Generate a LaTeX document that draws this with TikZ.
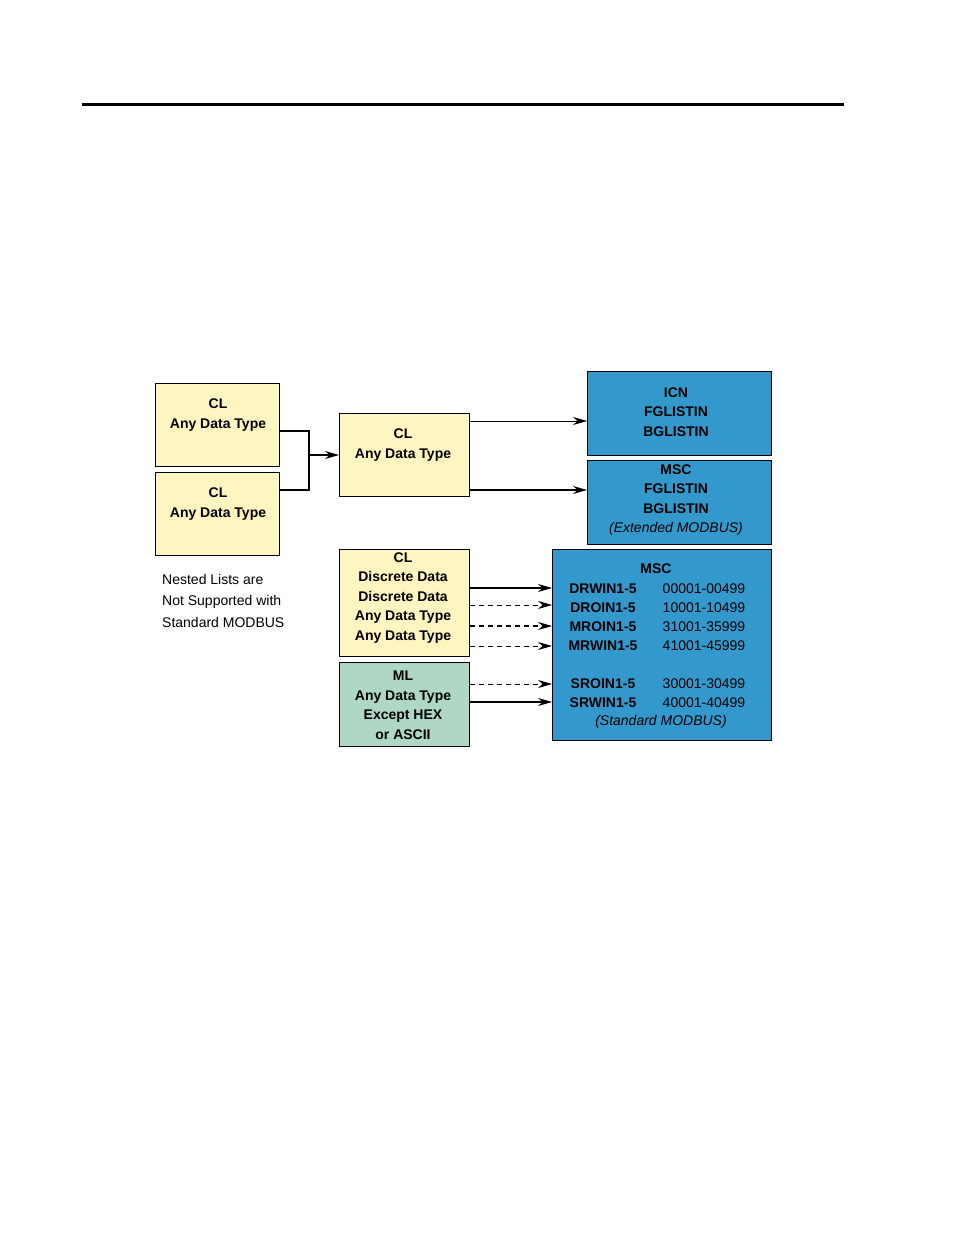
\documentclass[tikz,border=0pt]{standalone}
\usepackage{fontspec}
\setmainfont{Liberation Sans}
\usetikzlibrary{arrows.meta}
\definecolor{yel}{HTML}{FFF5C0}
\definecolor{grn}{HTML}{AED8C4}
\definecolor{blu}{HTML}{3399CC}
\tikzset{
 box/.style={draw=black,line width=1.2pt,inner sep=0pt,anchor=north west},
 txt/.style={font=\fontsize{14}{19.5}\selectfont\bfseries,align=center,inner sep=0pt},
 conn/.style={line width=1.2pt,-{Stealth[length=14pt,width=8pt]}},
 dconn/.style={line width=0.8pt,dash pattern=on 5pt off 4pt,-{Stealth[length=14pt,width=8pt]}},
}
\begin{document}
\begin{tikzpicture}[x=1pt,y=-1pt]
\useasboundingbox (0,0) rectangle (954,1235);
\draw[line width=3pt] (82,104) -- (844,104);
% boxes
\node[box,fill=yel,minimum width=124pt,minimum height=83pt] (cla) at (155,383) {};
\node[box,fill=yel,minimum width=124pt,minimum height=83pt] (clb) at (155,472) {};
\node[box,fill=yel,minimum width=130pt,minimum height=83pt] (clm) at (339,413) {};
\node[box,fill=blu,minimum width=184pt,minimum height=84pt] (icn) at (587,371) {};
\node[box,fill=blu,minimum width=184pt,minimum height=84pt] (msce) at (587,460) {};
\node[box,fill=yel,minimum width=130pt,minimum height=107pt] (clc) at (339,549) {};
\node[box,fill=grn,minimum width=130pt,minimum height=84pt] (ml) at (339,662) {};
\node[box,fill=blu,minimum width=219pt,minimum height=191pt] (mscb) at (552,549) {};
% texts
\node[txt] (t1) at (218,415) {CL\\Any Data Type};
\node[txt] (t2) at (218,504) {CL\\Any Data Type};
\node[txt] (t3) at (403,445) {CL\\Any Data Type};
\node[txt] (t4) at (676,412) {ICN\\FGLISTIN\\BGLISTIN};
\node[txt,align=center] (t5) at (676,500) {MSC\\FGLISTIN\\BGLISTIN\\{\mdseries\itshape (Extended MODBUS)}};
\node[txt] (t6) at (403,598) {CL\\Discrete Data\\Discrete Data\\Any Data Type\\Any Data Type};
\node[txt] (t7) at (403,705) {ML\\Any Data Type\\Except HEX\\or ASCII};
\node[txt,align=left,font=\fontsize{14}{21.5}\selectfont,anchor=north west] (t8) at (162,574) {Nested Lists are\\Not Supported with\\Standard MODBUS};
\node[txt] (m0) at (656,569) {MSC};
\foreach \y/\a/\b in {589/DRWIN1-5/00001-00499,608/DROIN1-5/10001-10499,627/MROIN1-5/31001-35999,646/MRWIN1-5/41001-45999,684/SROIN1-5/30001-30499,703/SRWIN1-5/40001-40499}{
 \node[txt] at (603,\y) {\a};
 \node[txt,font=\fontsize{14}{19}\selectfont] at (704,\y) {\b};
}
\node[txt,font=\fontsize{14}{19}\selectfont\itshape] (m9) at (661,722) {(Standard MODBUS)};
% connectors
\coordinate (j) at (309,455);
\draw[line width=1.2pt] (cla.east |- 0,431) -| (j) |- (clb.east |- 0,490);
\draw[conn] (j) -- (clm.west |- j);
\draw[line width=0.8pt,-{Stealth[length=14pt,width=8pt]}] (clm.east |- 0,421) -- (icn.west |- 0,421);
\draw[conn] (clm.east |- 0,490) -- (msce.west |- 0,490);
\draw[conn] (clc.east |- 0,588) -- (mscb.west |- 0,588);
\draw[dconn] (clc.east |- 0,605) -- (mscb.west |- 0,605);
\draw[dconn,line width=1.3pt] (clc.east |- 0,626) -- (mscb.west |- 0,626);
\draw[dconn] (clc.east |- 0,646) -- (mscb.west |- 0,646);
\draw[dconn] (ml.east |- 0,684) -- (mscb.west |- 0,684);
\draw[conn] (ml.east |- 0,702) -- (mscb.west |- 0,702);
\end{tikzpicture}
\end{document}
